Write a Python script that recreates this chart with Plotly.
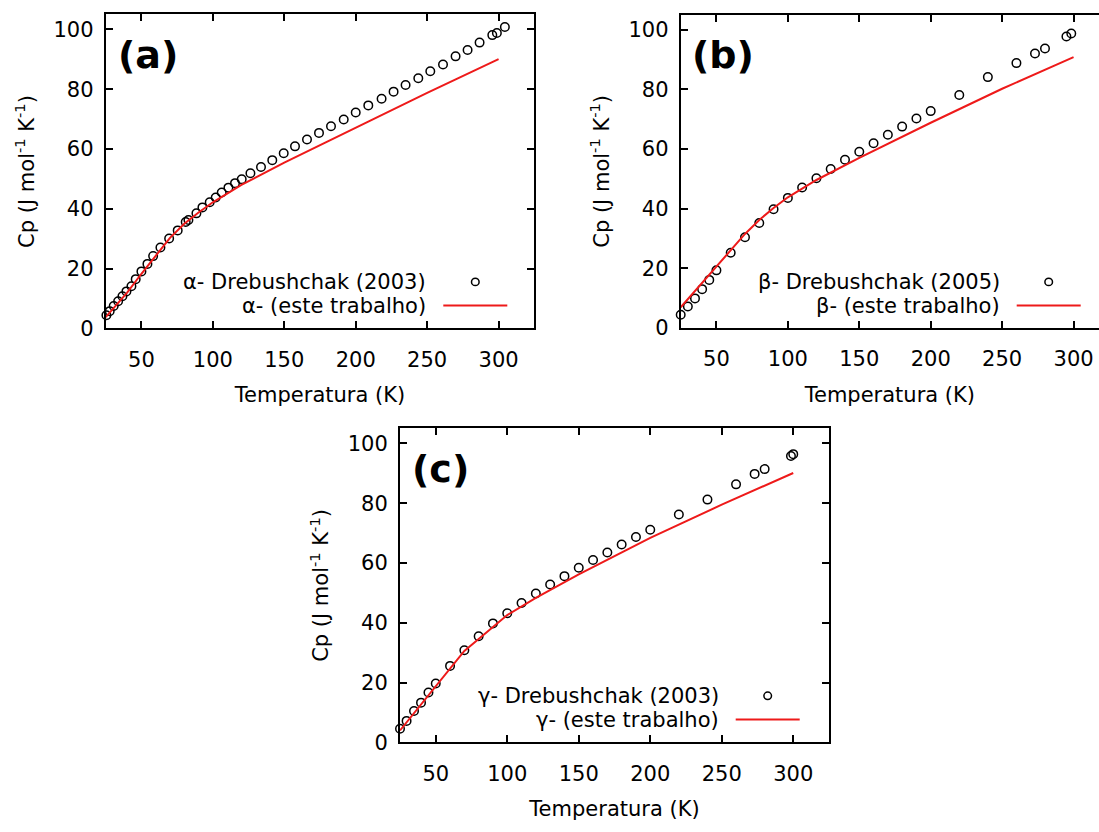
import plotly.graph_objects as go

# ---------------- data ----------------
# (a) alpha
a_T_exp = [25.5, 27.8, 30.6, 33.7, 36.7, 39.5, 43.0, 46.0, 50.0, 54.2, 58.2, 63.3, 69.4, 75.4,
           81.0, 82.9, 88.5, 92.7, 97.8, 102.0, 106.2, 110.9, 115.5, 120.2, 126.3, 133.7, 141.6,
           149.6, 157.5, 165.9, 174.3, 182.7, 191.6, 200.0, 208.8, 218.1, 226.5, 234.9, 243.8,
           252.2, 261.1, 269.9, 278.3, 286.7, 295.6, 298.8, 304.4]
a_Cp_exp = [4.4, 5.8, 7.5, 9.1, 10.8, 12.4, 14.1, 16.5, 19.1, 21.6, 24.2, 27.1, 30.1, 32.8,
            35.6, 36.3, 38.5, 40.5, 42.2, 43.8, 45.5, 47.1, 48.6, 49.9, 51.9, 54.0, 56.3,
            58.6, 60.9, 63.2, 65.4, 67.6, 69.9, 72.2, 74.6, 76.8, 79.2, 81.4, 83.7,
            86.0, 88.3, 91.0, 93.1, 95.6, 98.1, 98.8, 100.8]
a_T_calc = [25, 30, 40, 50, 60, 70, 80, 90, 100, 120, 150, 200, 250, 300]
a_Cp_calc = [3.8, 6.5, 12.0, 18.3, 24.5, 30.3, 35.0, 38.8, 42.2, 48.0, 55.5, 67.2, 78.8, 90.1]

# (b) beta
b_T_exp = [25, 30, 35, 40, 45, 50, 60, 70, 80, 90, 100, 110, 120, 130, 140, 150, 160, 170,
           180, 190, 200, 220, 240, 260, 273, 280, 295, 298.4]
b_Cp_exp = [4.4, 7.2, 9.9, 13.0, 16.1, 19.3, 25.2, 30.4, 35.2, 39.8, 43.6, 47.1, 50.2, 53.3,
            56.4, 59.1, 61.9, 64.8, 67.5, 70.2, 72.7, 78.1, 84.1, 88.8, 92.0, 93.7, 97.7, 98.7]
b_T_calc = [25, 30, 40, 50, 60, 70, 80, 90, 100, 120, 150, 200, 250, 300]
b_Cp_calc = [6.9, 9.6, 15.0, 20.7, 26.0, 31.5, 36.2, 40.2, 43.8, 49.6, 57.0, 68.8, 80.2, 90.8]

# (c) gamma
c_T_exp = [25, 29.6, 34.8, 39.7, 44.9, 50, 60, 70, 80, 90, 100, 110, 120, 130, 140, 150, 160,
           170, 180, 190, 200, 220, 240, 260, 273, 280, 298.4, 300]
c_Cp_exp = [4.6, 7.2, 10.5, 13.3, 16.7, 19.7, 25.6, 30.8, 35.5, 39.8, 43.2, 46.6, 49.8, 52.8,
            55.6, 58.4, 61.0, 63.5, 66.2, 68.7, 71.1, 76.2, 81.2, 86.3, 89.8, 91.4, 95.8, 96.4]
c_T_calc = [25, 30, 40, 50, 60, 70, 80, 90, 100, 120, 150, 200, 250, 300]
c_Cp_calc = [4.0, 7.0, 12.8, 18.7, 24.8, 30.6, 34.6, 38.7, 42.6, 48.3, 56.2, 68.4, 79.5, 90.1]

x_ticks = [50, 100, 150, 200, 250, 300]
y_ticks = [0, 20, 40, 60, 80, 100]

legend_exp = ["α- Drebushchak (2003)", "β- Drebushchak (2005)", "γ- Drebushchak (2003)"]
legend_calc = ["α- (este trabalho)", "β- (este trabalho)", "γ- (este trabalho)"]
panel_labels = ["(a)", "(b)", "(c)"]
x_title = "Temperatura (K)"
y_title = "Cp (J mol<sup>-1</sup> K<sup>-1</sup>)"

# ---------------- layout ----------------
W, H = 1099, 832
FONT = "DejaVu Sans"
RED = "#ee1a1a"


def px(x):
    return x / W


def py(y):
    return 1 - y / H


# plot boxes in pixels: left, right, top, bottom
boxes = [(105.7, 534.3, 14.7, 333.3), (680.7, 1099.0, 15.0, 332.7), (400.0, 829.0, 434.7, 753.3)]
x_ranges = [[25, 325], [25, 25 + (1099 - 680.7) / 1.4286], [25, 325]]

fig = go.Figure()
datasets = [(a_T_exp, a_Cp_exp, a_T_calc, a_Cp_calc),
            (b_T_exp, b_Cp_exp, b_T_calc, b_Cp_calc),
            (c_T_exp, c_Cp_exp, c_T_calc, c_Cp_calc)]

for i, (te, ce, tc, cc) in enumerate(datasets):
    sfx = "" if i == 0 else str(i + 1)
    fig.add_trace(go.Scatter(x=te, y=ce, mode="markers", xaxis="x" + sfx, yaxis="y" + sfx,
                             marker=dict(symbol="circle-open", size=8.5, color="black",
                                         line=dict(width=1.5, color="black")),
                             cliponaxis=False, showlegend=False))
    fig.add_trace(go.Scatter(x=tc, y=cc, mode="lines", xaxis="x" + sfx, yaxis="y" + sfx,
                             line=dict(color=RED, width=2), showlegend=False))

axis_common = dict(showgrid=False, zeroline=False, showline=True, linecolor="black", linewidth=2,
                   ticks="inside", ticklen=7, tickwidth=1.5, tickcolor="black",
                   tickfont=dict(family=FONT, size=21, color="black"))

layout = dict(width=W, height=H, margin=dict(l=0, r=0, t=0, b=0),
              paper_bgcolor="white", plot_bgcolor="white", showlegend=False)

annotations = []
shapes = []
for i, (l, r, t, b) in enumerate(boxes):
    sfx = "" if i == 0 else str(i + 1)
    layout["xaxis" + sfx] = dict(axis_common, domain=[px(l), px(r)], range=x_ranges[i],
                                 tickvals=x_ticks, mirror="ticks", anchor="y" + sfx,
                                 ticklabelstandoff=11,
                                 title=dict(text=x_title, font=dict(family=FONT, size=21, color="black"),
                                            standoff=17))
    layout["yaxis" + sfx] = dict(axis_common, domain=[py(b), py(t)], range=[0, 105],
                                 tickvals=y_ticks, mirror=("ticks" if i != 1 else False),
                                 anchor="x" + sfx, ticklabelstandoff=6,
                                 title=dict(text=y_title, font=dict(family=FONT, size=21, color="black"),
                                            standoff=13))
    # legend rows
    lx = [428.3, 1001.7, 720.7][i]
    ly1 = [286, 286, 706][i]
    ly2 = ly1 + 24.5
    annotations.append(dict(x=px(lx), y=py(ly1), xref="paper", yref="paper", xanchor="right",
                            yanchor="middle", showarrow=False, text=legend_exp[i],
                            font=dict(family=FONT, size=21, color="black")))
    annotations.append(dict(x=px(lx), y=py(ly2), xref="paper", yref="paper", xanchor="right",
                            yanchor="middle", showarrow=False, text=legend_calc[i],
                            font=dict(family=FONT, size=21, color="black")))
    cx = lx + 47
    shapes.append(dict(type="circle", xref="paper", yref="paper",
                       x0=px(cx - 3.8), x1=px(cx + 3.8), y0=py(ly1 + 3.8), y1=py(ly1 - 3.8),
                       line=dict(color="black", width=1.5)))
    shapes.append(dict(type="line", xref="paper", yref="paper",
                       x0=px(lx + 15), x1=px(lx + 79), y0=py(ly2 - 0.5), y1=py(ly2 - 0.5),
                       line=dict(color=RED, width=2)))
    # panel label
    plx = [147.5, 722.8, 440.5][i]
    ply = [55.8, 55.8, 475.8][i]
    annotations.append(dict(x=px(plx), y=py(ply), xref="paper", yref="paper", xanchor="center",
                            yanchor="middle", showarrow=False, text="<b>%s</b>" % panel_labels[i],
                            font=dict(family=FONT, size=38, color="black")))

layout["annotations"] = annotations
layout["shapes"] = shapes
fig.update_layout(**layout)
fig.write_html("out.html")
